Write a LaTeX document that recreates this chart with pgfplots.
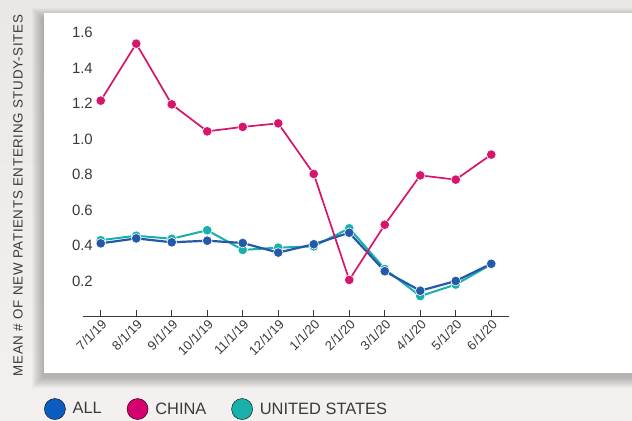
\documentclass[border=0pt]{standalone}
\usepackage{fontspec}
\setmainfont{Liberation Sans}
\usepackage{pgfplots}
\pgfplotsset{compat=1.18}
\definecolor{bgtop}{HTML}{ECE7E7}
\definecolor{bgbot}{HTML}{F4F0F0}
\definecolor{allcol}{HTML}{2459A9}
\definecolor{allleg}{HTML}{0B5CBF}
\definecolor{chcol}{HTML}{D6156B}
\definecolor{chleg}{HTML}{D5006D}
\definecolor{uscol}{HTML}{18B0AA}
\definecolor{txtcol}{HTML}{3A3A3A}
\begin{document}
\begin{tikzpicture}
\useasboundingbox (0bp,0bp) rectangle (632bp,421bp);
\clip (0bp,0bp) rectangle (632bp,421bp);
\shade[top color=bgtop, bottom color=bgbot] (0bp,0bp) rectangle (632bp,421bp);
% soft shadow of the panel
\foreach \i in {0,...,10}{
  \fill[black,opacity=0.022] ({(42-\i)*1bp},{(43-\i)*1bp}) rectangle ({(640)*1bp},{(403+\i)*1bp});
}
\fill[white] (44bp,48bp) rectangle (632bp,408bp);
\node[rotate=90, text=txtcol, font=\addfontfeatures{LetterSpace=5}\fontsize{13.4}{15}\selectfont] at (18bp,225.5bp) {MEAN \# OF NEW PATIENTS ENTERING STUDY-SITES};
\begin{axis}[
  at={(83bp,104.5bp)}, anchor=south west,
  scale only axis, width=426bp, height=292.9bp,
  xmin=-0.5, xmax=11.5, ymin=0, ymax=1.65,
  axis x line=bottom, axis y line=left,
  x axis line style={-, draw=txtcol, line width=0.9bp},
  y axis line style={draw=none},
  xtick={0,...,11},
  xticklabels={7/1/19,8/1/19,9/1/19,10/1/19,11/1/19,12/1/19,1/1/20,2/1/20,3/1/20,4/1/20,5/1/20,6/1/20},
  ytick={0.2,0.4,0.6,0.8,1.0,1.2,1.4,1.6},
  yticklabels={0.2,0.4,0.6,0.8,1.0,1.2,1.4,1.6},
  tick align=inside, major tick length=6bp,
  xtick style={draw=txtcol, line width=0.9bp},
  ytick style={draw=none},
  /pgf/number format/assume math mode=true,
  xticklabel style={rotate=45, anchor=north east, inner sep=1.5bp, text=txtcol, font=\fontsize{13}{15}\selectfont},
  yticklabel style={anchor=east, inner sep=0pt, xshift=10bp, text=txtcol, font=\fontsize{15}{17}\selectfont},
  legend columns=3,
  legend style={at={(-0.0915,-0.316)}, anchor=west, draw=none, fill=none, inner sep=0pt,
    font=\fontsize{16.5}{18}\selectfont, text=txtcol,
    nodes={inner sep=0pt},
    /tikz/every odd column/.append style={column sep=7bp},
    /tikz/every even column/.append style={column sep=25bp}},
  legend cell align=left,
  legend image code/.code={\fill[#1] (10.5bp,0bp) circle (10.5bp);},
]
\addlegendimage{fill=allleg}
\addlegendentry{ALL}
\addlegendimage{fill=chleg}
\addlegendentry{CHINA}
\addlegendimage{fill=uscol}
\addlegendentry{UNITED STATES}
\addplot[forget plot, uscol, line width=2bp, mark=*, mark size=4.8bp, mark options={fill=uscol, draw=white, line width=0.6bp}] coordinates {
(0,0.43) (1,0.455) (2,0.438) (3,0.486) (4,0.375) (5,0.388) (6,0.395) (7,0.497) (8,0.268) (9,0.115) (10,0.18) (11,0.294)};
\addplot[forget plot, allcol, line width=2.2bp, mark=*, mark size=4.8bp, mark options={fill=allcol, draw=white, line width=0.6bp}] coordinates {
(0,0.412) (1,0.44) (2,0.418) (3,0.427) (4,0.414) (5,0.36) (6,0.407) (7,0.472) (8,0.255) (9,0.145) (10,0.20) (11,0.297)};
\addplot[forget plot, chcol, line width=1.7bp, mark=*, mark size=4.8bp, mark options={fill=chcol, draw=white, line width=0.6bp}] coordinates {
(0,1.216) (1,1.537) (2,1.195) (3,1.043) (4,1.068) (5,1.088) (6,0.803) (7,0.206) (8,0.517) (9,0.795) (10,0.771) (11,0.912)};
\end{axis}
\end{tikzpicture}
\end{document}
